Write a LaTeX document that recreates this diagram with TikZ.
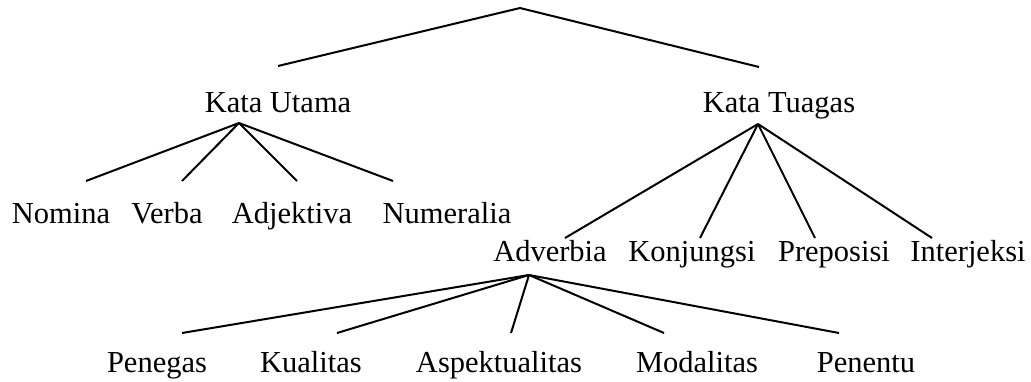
\documentclass[tikz,border=0pt]{standalone}
\usepackage{fontspec}
\setmainfont{Liberation Serif}
\begin{document}
\begin{tikzpicture}[x=1pt,y=-1pt,
  lbl/.style={anchor=base,inner sep=0pt,font=\fontsize{30.5}{36}\selectfont},
  branch/.style={line width=2pt}]
\useasboundingbox (0,0) rectangle (1031,381);

% labels
\node[lbl] (ku)  at (278,112) {Kata Utama};
\node[lbl] (kt)  at (779,112) {Kata Tuagas};
\node[lbl] (nom) at (61,223)  {Nomina};
\node[lbl] (ver) at (167,223) {Verba};
\node[lbl] (adj) at (292,223) {Adjektiva};
\node[lbl] (num) at (447,223) {Numeralia};
\node[lbl] (adv) at (550,261) {Adverbia};
\node[lbl] (kon) at (692,261) {Konjungsi};
\node[lbl] (pre) at (834,261) {Preposisi};
\node[lbl] (int) at (968,261) {Interjeksi};
\node[lbl] (pen) at (157,372) {Penegas};
\node[lbl] (kua) at (311,372) {Kualitas};
\node[lbl] (asp) at (499,372) {Aspektualitas};
\node[lbl] (mod) at (697,372) {Modalitas};
\node[lbl] (pnt) at (866,372) {Penentu};

% branch points
\coordinate (root)   at (520,8);
\coordinate (ku-in)  at (278,66);
\coordinate (kt-in)  at (759,67);
\coordinate (ku-out) at (239,123);
\coordinate (kt-out) at (758,124);
\coordinate (adv-out) at (529,275);
\coordinate (nom-in) at (86,181);
\coordinate (ver-in) at (182,181);
\coordinate (adj-in) at (297,181);
\coordinate (num-in) at (393,181);
\coordinate (adv-in) at (565,238);
\coordinate (kon-in) at (700,238);
\coordinate (pre-in) at (815,238);
\coordinate (int-in) at (932,238);
\coordinate (pen-in) at (182,333);
\coordinate (kua-in) at (337,333);
\coordinate (asp-in) at (511,333);
\coordinate (mod-in) at (664,333);
\coordinate (pnt-in) at (839,333);

% tree branches
\draw[branch] (root) -- (ku-in);
\draw[branch] (root) -- (kt-in);
\foreach \c in {nom,ver,adj,num} \draw[branch] (ku-out) -- (\c-in);
\foreach \c in {adv,kon,pre,int} \draw[branch] (kt-out) -- (\c-in);
\foreach \c in {pen,kua,asp,mod,pnt} \draw[branch] (adv-out) -- (\c-in);
\end{tikzpicture}
\end{document}
